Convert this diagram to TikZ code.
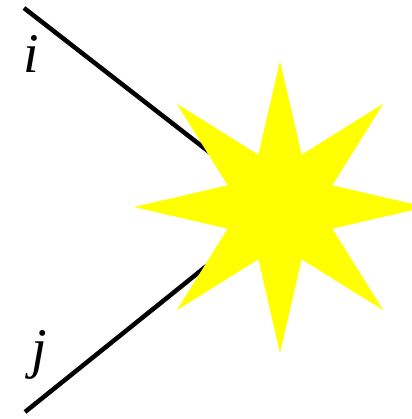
\documentclass[tikz,border=0pt]{standalone}
\usepackage{fontspec}
\setmainfont{Liberation Serif}
\usetikzlibrary{shapes.geometric}

\definecolor{flashyellow}{RGB}{255,255,0}

\tikzset{
    particle/.style={line width=4.5pt},
    burst/.style={
        star, star points=8, star point ratio=2.58,
        minimum size=292pt, inner sep=0pt,
        fill=flashyellow, draw=none
    },
    tag/.style={font=\fontsize{56}{60}\selectfont\itshape, inner sep=0pt}
}

\begin{document}
\begin{tikzpicture}[x=1pt, y=-1pt]

    \useasboundingbox (0,0) rectangle (411,419);

    \coordinate (hit) at (280,207);
    \coordinate (in-i) at (24,8);
    \coordinate (in-j) at (25,412);

    \draw [particle]
        (in-i) -- (hit)
        (in-j) -- (hit)
        ;

    \node [burst] (flash) at (hit) {};

    \node [tag] (tag-i) at (31,54) {i};
    \node [tag] (tag-j) at (39,355) {j};

\end{tikzpicture}
\end{document}
